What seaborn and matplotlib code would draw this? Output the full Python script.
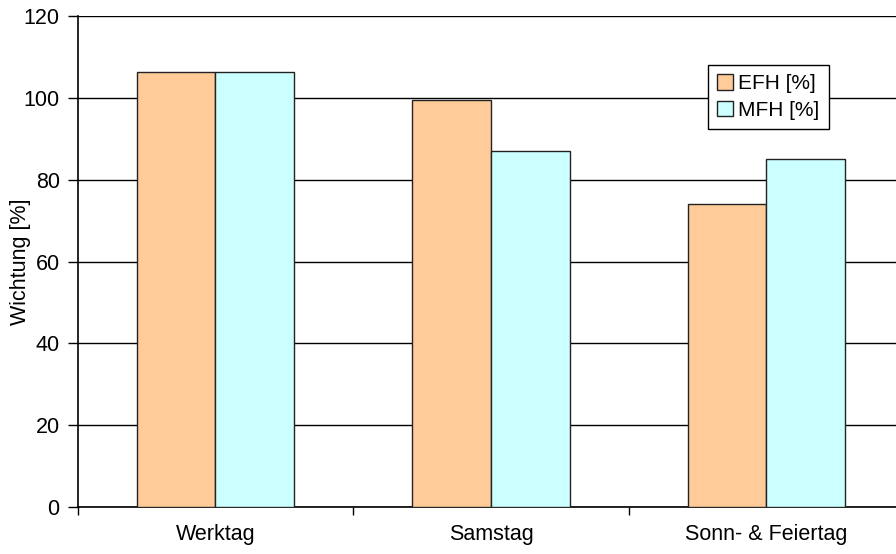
import matplotlib
matplotlib.use("Agg")
import matplotlib.pyplot as plt
from matplotlib.ticker import FixedLocator
import seaborn as sns
import pandas as pd

# Weighting factors per day type and building type
tage = ["Werktag", "Samstag", "Sonn- & Feiertag"]
efh = [106.5, 99.5, 74.0]
mfh = [106.5, 87.0, 85.0]
serien = ["EFH [%]", "MFH [%]"]
farben = ["#FFCC99", "#CCFFFF"]
y_ticks = [0, 20, 40, 60, 80, 100, 120]

df = pd.DataFrame({
    "Tag": tage * 2,
    "Wert": efh + mfh,
    "Typ": [serien[0]] * len(tage) + [serien[1]] * len(tage),
})

sns.set_theme(style="white")
plt.rcParams["font.family"] = ["Liberation Sans", "DejaVu Sans"]
plt.rcParams.update({
    "text.color": "black",
    "axes.labelcolor": "black",
    "xtick.color": "black",
    "ytick.color": "black",
})

fig = plt.figure(figsize=(8.96, 5.54), dpi=100)
ax = fig.add_axes([77.7 / 896, 47 / 554, 826.5 / 896, 490.7 / 554])

sns.barplot(data=df, x="Tag", y="Wert", hue="Typ", palette=farben,
            width=2 / 3.5, gap=0, edgecolor="#222222", linewidth=1.0,
            saturation=1, ax=ax, zorder=3)

ax.set_xlim(-0.5, len(tage) - 0.5)
ax.set_ylim(0, 120)
ax.yaxis.set_major_locator(FixedLocator(y_ticks))
ax.grid(axis="y", color="black", linewidth=1.0, zorder=0)
ax.set_axisbelow(True)

for s in ["top", "right"]:
    ax.spines[s].set_visible(False)
for s in ["left", "bottom"]:
    ax.spines[s].set_color("black")
    ax.spines[s].set_linewidth(1.2)

ax.tick_params(axis="y", which="major", direction="out", length=7, width=1,
               color="black", labelcolor="black", labelsize=15.5, pad=6, left=True)
ax.tick_params(axis="x", which="major", length=0, labelcolor="black",
               labelsize=15.5, pad=12)
ax.xaxis.set_minor_locator(FixedLocator([i - 0.5 for i in range(len(tage) + 1)]))
ax.tick_params(axis="x", which="minor", direction="out", length=6, width=1,
               color="black", bottom=True)

ax.set_xlabel("")
ax.set_ylabel("Wichtung [%]", fontsize=15.5, color="black")
ax.yaxis.set_label_coords((31 - 77.7) / 826.5, 0.5)

leg = ax.legend(loc="upper left", bbox_to_anchor=(708 / 896, 1 - 65 / 554),
                bbox_transform=fig.transFigure, frameon=True, fancybox=False,
                framealpha=1, edgecolor="black", fontsize=15,
                handlelength=0.75, handleheight=0.75, handletextpad=0.25,
                borderpad=0.45, labelspacing=0.35, borderaxespad=0)
leg.get_frame().set_linewidth(1.0)
for t in leg.get_texts():
    t.set_color("black")

fig.savefig("out.png", dpi=100)
